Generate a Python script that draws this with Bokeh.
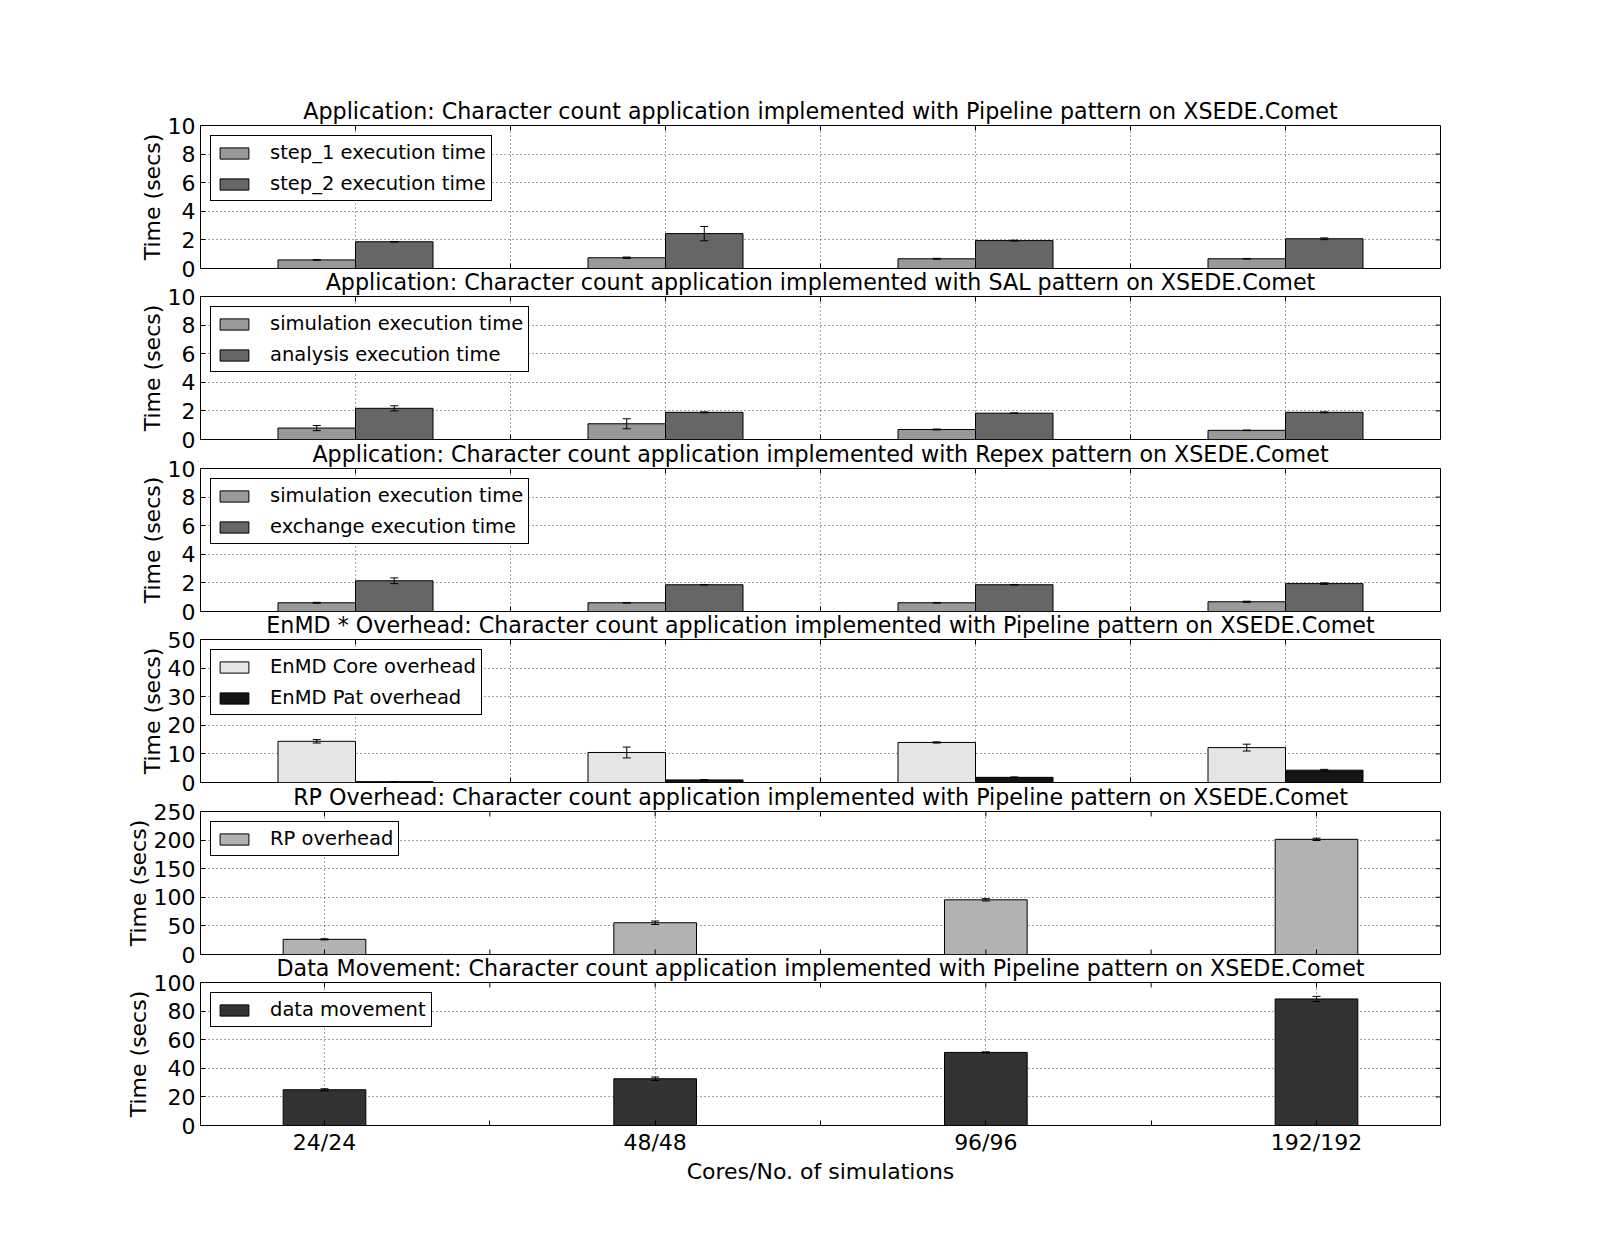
import numpy as np
from bokeh.plotting import figure
from bokeh.layouts import column
from bokeh.models import (ColumnDataSource, Whisker, TeeHead, FixedTicker,
                          Range1d, Legend, LegendItem)
from bokeh.embed import file_html
from bokeh.resources import INLINE

# ---------------- data ----------------
groups = ["24/24", "48/48", "96/96", "192/192"]

titles = [
    "Application: Character count application implemented with Pipeline pattern on XSEDE.Comet",
    "Application: Character count application implemented with SAL pattern on XSEDE.Comet",
    "Application: Character count application implemented with Repex pattern on XSEDE.Comet",
    "EnMD * Overhead: Character count application implemented with Pipeline pattern on XSEDE.Comet",
    "RP Overhead: Character count application implemented with Pipeline pattern on XSEDE.Comet",
    "Data Movement: Character count application implemented with Pipeline pattern on XSEDE.Comet",
]

step1 = [0.60, 0.75, 0.68, 0.68]
step1_err = [0.02, 0.05, 0.03, 0.02]
step2 = [1.87, 2.44, 1.95, 2.08]
step2_err = [0.02, 0.50, 0.03, 0.06]

sal_sim = [0.80, 1.10, 0.70, 0.64]
sal_sim_err = [0.18, 0.35, 0.03, 0.02]
sal_ana = [2.18, 1.90, 1.84, 1.90]
sal_ana_err = [0.18, 0.03, 0.02, 0.03]

rep_sim = [0.61, 0.61, 0.61, 0.68]
rep_sim_err = [0.03, 0.02, 0.02, 0.04]
rep_exc = [2.15, 1.87, 1.87, 1.95]
rep_exc_err = [0.20, 0.02, 0.02, 0.05]

core_ovh = [14.4, 10.5, 14.0, 12.2]
core_ovh_err = [0.6, 1.9, 0.2, 1.2]
pat_ovh = [0.3, 0.9, 1.8, 4.3]
pat_ovh_err = [0.05, 0.1, 0.15, 0.3]

rp_ovh = [26.5, 55.5, 95.6, 201.3]
rp_ovh_err = [1.0, 3.0, 2.0, 2.0]

data_mov = [25.0, 32.7, 51.1, 88.5]
data_mov_err = [0.7, 1.2, 0.4, 1.8]

C_LIGHT = "#999999"
C_DARK = "#666666"
C_CORE = "#e5e5e5"
C_PAT = "#141414"
C_RP = "#b2b2b2"
C_DM = "#333333"

FONT = "DejaVu Sans"
FS = "22px"
FRAME_H = 143
TOP_B = 40
BOT_B = 20
BOT_LAST = 125
frame_tops = [125, 296, 468, 639, 811, 982]


def make_panel(idx, series, yend, ystep, single):
    last = idx == 5
    top_b = frame_tops[0] if idx == 0 else TOP_B
    bot_b = BOT_LAST if last else BOT_B
    h = top_b + FRAME_H + bot_b
    xr = Range1d(-0.375, 3.375) if single else Range1d(0, 4)
    p = figure(width=1600, height=h, x_range=xr, y_range=Range1d(0, yend),
               output_backend="svg", toolbar_location=None,
               min_border_left=200, min_border_right=160,
               min_border_top=top_b, min_border_bottom=bot_b,
               title=titles[idx])
    if idx > 0:
        prev_bottom_canvas = frame_tops[idx - 1] + FRAME_H + BOT_B
        p.margin = (frame_tops[idx] - TOP_B - prev_bottom_canvas, 0, 0, 0)
    p.border_fill_alpha = 0
    p.background_fill_color = "white"
    p.outline_line_color = "black"
    p.outline_line_width = 1
    p.outline_line_alpha = 1

    p.title.text_font = FONT
    p.title.text_font_size = "22.2px"
    p.title.text_font_style = "normal"
    p.title.text_color = "black"
    p.title.align = "center"
    p.title.standoff = 4
    p.title.offset = 0

    n = np.arange(len(groups))
    items = []
    for k, (vals, errs, color, label) in enumerate(series):
        xs = n.astype(float) if single else n + 0.375 + 0.25 * k
        src = ColumnDataSource(dict(x=list(xs), top=vals,
                                    upper=[v + e for v, e in zip(vals, errs)],
                                    lower=[v - e for v, e in zip(vals, errs)]))
        r = p.vbar(x="x", top="top", bottom=0, width=0.25, source=src,
                   fill_color=color, line_color="black", line_width=1)
        w = Whisker(source=src, base="x", upper="upper", lower="lower",
                    line_color="black", line_width=1, level="annotation",
                    upper_head=TeeHead(size=8, line_color="black", line_width=1),
                    lower_head=TeeHead(size=8, line_color="black", line_width=1))
        p.add_layout(w)
        items.append(LegendItem(label=label, renderers=[r]))

    # ticks
    if single:
        xmaj = [0, 1, 2, 3]
        xmin = [0.5, 1.5, 2.5]
    else:
        xmaj = [0.5, 1.0, 1.5, 2.0, 2.5, 3.0, 3.5]
        xmin = []
    xt = FixedTicker(ticks=xmaj, minor_ticks=xmin)
    yticks = list(np.arange(0, yend + ystep / 2, ystep))
    yt = FixedTicker(ticks=yticks, minor_ticks=[])

    xa = p.xaxis[0]
    xa.ticker = xt
    if last:
        xa.axis_line_color = None
        xa.major_tick_in = 5
        xa.major_tick_out = 0
        xa.minor_tick_in = 5
        xa.minor_tick_out = 0
        xa.major_tick_line_color = "black"
        xa.minor_tick_line_color = "black"
        xa.major_label_overrides = {i: g for i, g in enumerate(groups)}
        xa.major_label_text_font = FONT
        xa.major_label_text_font_size = FS
        xa.major_label_text_color = "black"
        xa.major_label_standoff = 4
        xa.axis_label = "Cores/No. of simulations"
        xa.axis_label_text_font = FONT
        xa.axis_label_text_font_size = FS
        xa.axis_label_text_font_style = "normal"
        xa.axis_label_text_color = "black"
        xa.axis_label_standoff = 1
    else:
        xa.visible = False

    ya = p.yaxis[0]
    ya.ticker = yt
    ya.axis_line_color = None
    ya.major_tick_in = 5
    ya.major_tick_out = 0
    ya.minor_tick_line_color = None
    ya.major_tick_line_color = "black"
    ya.major_label_text_font = FONT
    ya.major_label_text_font_size = FS
    ya.major_label_text_color = "black"
    ya.major_label_standoff = 5
    ya.axis_label = "Time (secs)"
    ya.axis_label_text_font = FONT
    ya.axis_label_text_font_size = FS
    ya.axis_label_text_font_style = "normal"
    ya.axis_label_text_color = "black"
    ya.axis_label_standoff = 0

    # inward tick marks on the other sides, at the ticker positions
    xall = xmaj + xmin
    tick_kw = dict(length=5, length_units="screen", line_color="black", line_width=1)
    if not last:
        p.ray(x=xall, y=[0] * len(xall), angle=np.pi / 2, **tick_kw)
    p.ray(x=xall, y=[yend] * len(xall), angle=-np.pi / 2, **tick_kw)
    p.ray(x=[xr.end] * len(yticks), y=yticks, angle=np.pi, **tick_kw)

    for g in (p.xgrid[0], p.ygrid[0]):
        g.grid_line_color = "black"
        g.grid_line_dash = "1 3"
        g.grid_line_width = 0.8
        g.grid_line_alpha = 0.9
    p.xgrid[0].ticker = xt
    p.ygrid[0].ticker = yt

    leg = Legend(items=items, location="top_left")
    leg.margin = 10
    leg.padding = 5
    leg.spacing = 8
    leg.label_height = 22
    leg.glyph_width = 36
    leg.glyph_height = 14
    leg.label_standoff = 18
    leg.label_text_font = FONT
    leg.label_text_font_size = "19.5px"
    leg.label_text_color = "black"
    leg.border_line_color = "black"
    leg.border_line_width = 1
    leg.border_line_alpha = 1
    leg.background_fill_color = "white"
    leg.background_fill_alpha = 1
    p.add_layout(leg)
    return p


panels = [
    make_panel(0, [(step1, step1_err, C_LIGHT, "step_1 execution time"),
                   (step2, step2_err, C_DARK, "step_2 execution time")], 10, 2, False),
    make_panel(1, [(sal_sim, sal_sim_err, C_LIGHT, "simulation execution time"),
                   (sal_ana, sal_ana_err, C_DARK, "analysis execution time")], 10, 2, False),
    make_panel(2, [(rep_sim, rep_sim_err, C_LIGHT, "simulation execution time"),
                   (rep_exc, rep_exc_err, C_DARK, "exchange execution time")], 10, 2, False),
    make_panel(3, [(core_ovh, core_ovh_err, C_CORE, "EnMD Core overhead"),
                   (pat_ovh, pat_ovh_err, C_PAT, "EnMD Pat overhead")], 50, 10, False),
    make_panel(4, [(rp_ovh, rp_ovh_err, C_RP, "RP overhead")], 250, 50, True),
    make_panel(5, [(data_mov, data_mov_err, C_DM, "data movement")], 100, 20, True),
]

layout = column(*panels, spacing=0)
open("out.html", "w").write(file_html(layout, INLINE))
